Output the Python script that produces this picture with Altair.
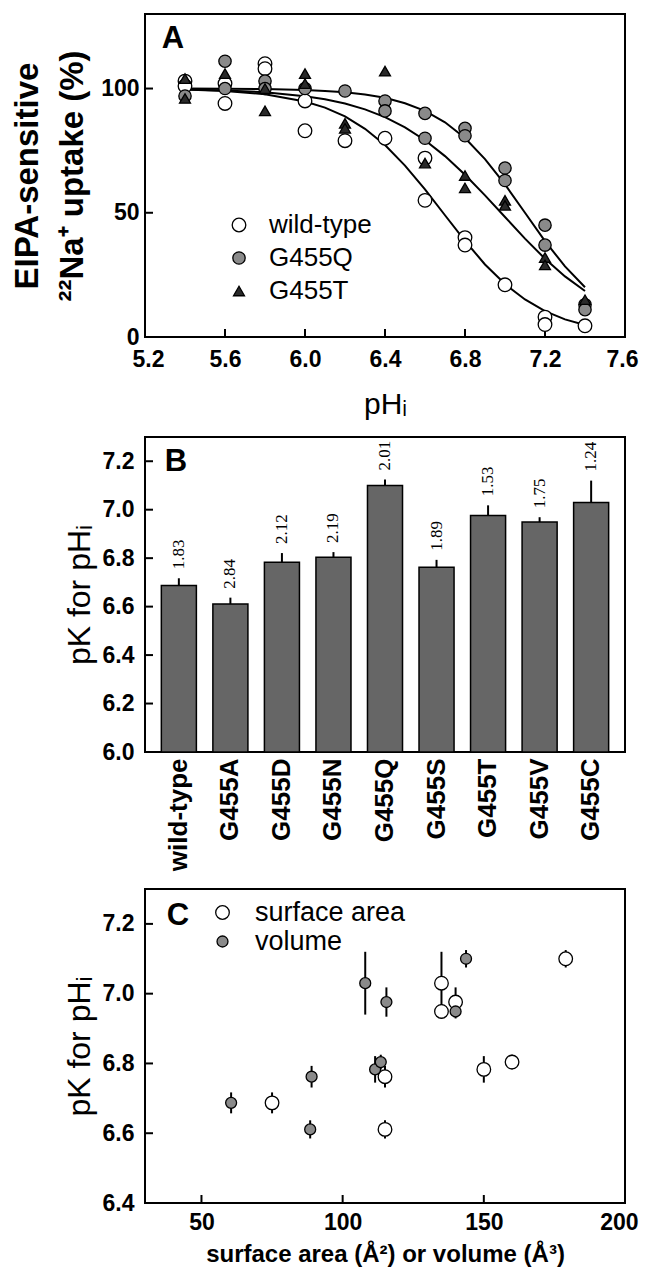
import altair as alt
import pandas as pd

# ---------------- Panel A data ----------------
series_names = ["wild-type", "G455Q", "G455T"]

wt_ph = [5.4, 5.4, 5.6, 5.6, 5.8, 5.8, 6.0, 6.0, 6.2, 6.4, 6.6, 6.6, 6.8, 6.8, 7.0, 7.2, 7.2, 7.4]
wt_val = [103, 101, 102, 94, 110, 108, 95, 83, 79, 80, 72, 55, 40, 37, 21, 8, 5, 4.5]

q_ph = [5.4, 5.6, 5.6, 5.8, 5.8, 6.0, 6.2, 6.4, 6.4, 6.6, 6.6, 6.8, 6.8, 7.0, 7.0, 7.2, 7.2, 7.4, 7.4]
q_val = [97, 111, 100, 103, 100, 100, 99, 95, 91, 90, 80, 84, 81, 68, 63, 45, 37, 13, 11]

t_ph = [5.4, 5.4, 5.6, 5.8, 5.8, 6.0, 6.0, 6.2, 6.2, 6.4, 6.6, 6.8, 6.8, 7.0, 7.0, 7.2, 7.2, 7.4]
t_val = [104, 96, 106, 100, 91, 106, 102, 86, 84, 107, 70, 65, 60, 55, 53, 32, 29, 15]

curve_ph = [5.4, 5.6, 5.8, 6.0, 6.1, 6.2, 6.3, 6.4, 6.5, 6.6, 6.7, 6.8, 6.9, 7.0, 7.1, 7.2, 7.3, 7.4]
wt_fit = [99.6, 99.0, 97.7, 94.8, 92.3, 88.8, 83.8, 77.3, 69.0, 59.4, 49.0, 38.7, 29.2, 21.3, 15.1, 10.4, 7.1, 4.8]
q_fit = [100.0, 99.9, 99.8, 99.4, 99.0, 98.5, 97.6, 96.3, 94.1, 91.0, 86.4, 80.1, 71.6, 61.4, 50.0, 38.6, 28.4, 20.0]
t_fit = [99.6, 99.2, 98.5, 96.9, 95.7, 94.0, 91.6, 88.5, 84.4, 79.2, 72.8, 65.3, 57.0, 48.3, 39.6, 31.5, 24.4, 18.5]

a_xticks = [5.2, 5.6, 6.0, 6.4, 6.8, 7.2, 7.6]
a_yticks = [0, 50, 100]

# ---------------- Panel B / C data ----------------
mutants = ["wild-type", "G455A", "G455D", "G455N", "G455Q", "G455S", "G455T", "G455V", "G455C"]
pk = [6.687, 6.611, 6.783, 6.804, 7.10, 6.762, 6.976, 6.949, 7.03]
pk_err = [0.03, 0.026, 0.038, 0.021, 0.025, 0.031, 0.042, 0.02, 0.09]
hill = ["1.83", "2.84", "2.12", "2.19", "2.01", "1.89", "1.53", "1.75", "1.24"]
b_yticks = [6.0, 6.2, 6.4, 6.6, 6.8, 7.0, 7.2]

surface_area = [75, 115, 150, 160, 179, 115, 140, 135, 135]
volume = [60.5, 88.5, 111.5, 113.5, 143.7, 89, 115.5, 140, 108]
c_kinds = ["surface area", "volume"]
c_xticks = [50, 100, 150, 200]
c_yticks = [6.4, 6.6, 6.8, 7.0, 7.2]

W = 480
HA, HB, HC = 323, 315, 314
FONT = "Liberation Sans"

# ---------------- Panel A ----------------
ptsA = pd.DataFrame({
    "ph": wt_ph + q_ph + t_ph,
    "val": wt_val + q_val + t_val,
    "series": [series_names[0]] * len(wt_ph) + [series_names[1]] * len(q_ph) + [series_names[2]] * len(t_ph),
})
curvesA = pd.DataFrame({
    "ph": curve_ph * 3,
    "val": wt_fit + q_fit + t_fit,
    "series": [s for s in series_names for _ in curve_ph],
})

xA = alt.X("ph:Q", scale=alt.Scale(domain=[5.2, 7.6], nice=False, zero=False),
           axis=alt.Axis(values=a_xticks, format=".1f", title="pHᵢ", titleFontSize=30,
                         titleFontWeight="normal", titlePadding=18, labelPadding=11,
                         labelFlush=True, labelFlushOffset=13))
yA = alt.Y("val:Q", scale=alt.Scale(domain=[0, 130], nice=False),
           axis=alt.Axis(values=a_yticks, title=["EIPA-sensitive", "²²Na⁺ uptake (%)"],
                         titleFontSize=33, titleFontWeight="bold", titleLineHeight=45,
                         titlePadding=11, labelPadding=6))

legA = alt.Legend(title=None, orient="none", legendX=81, legendY=198, labelFontSize=26,
                  labelFont=FONT, labelFontWeight="normal", labelColor="black",
                  symbolStrokeColor="black", symbolStrokeWidth=1.3, rowPadding=7,
                  labelOffset=17, padding=0)

lineA = alt.Chart(curvesA).mark_line(color="black", strokeWidth=2).encode(x=xA, y=yA, detail="series:N")
ticksAx = alt.Chart(pd.DataFrame({"ph": a_xticks})).mark_rule(color="black", strokeWidth=2).encode(
    x=xA, y=alt.value(HA), y2=alt.value(HA - 8))
ticksAy = alt.Chart(pd.DataFrame({"val": a_yticks})).mark_rule(color="black", strokeWidth=2).encode(
    y=yA, x=alt.value(0), x2=alt.value(8))
pointsA = alt.Chart(ptsA).mark_point(filled=True, strokeWidth=1.3, opacity=1).encode(
    x=xA, y=yA,
    fill=alt.Fill("series:N", scale=alt.Scale(domain=series_names, range=["white", "#8a8a8a", "#2a2a2a"]), legend=legA),
    stroke=alt.Stroke("series:N", scale=alt.Scale(domain=series_names, range=["black", "black", "black"]), legend=legA),
    shape=alt.Shape("series:N", scale=alt.Scale(domain=series_names, range=["circle", "circle", "triangle-up"]), legend=legA),
    size=alt.Size("series:N", scale=alt.Scale(domain=series_names, range=[185, 120, 130]), legend=legA),
)
letterA = alt.Chart(pd.DataFrame({"t": ["A"]})).mark_text(
    font=FONT, fontSize=31, fontWeight="bold", align="center", baseline="middle").encode(
    text="t:N", x=alt.value(28), y=alt.value(25))

panelA = alt.layer(lineA, ticksAx, ticksAy, pointsA, letterA).properties(width=W, height=HA)

# ---------------- Panel B ----------------
dfB = pd.DataFrame({"mut": mutants, "pk": pk, "err": pk_err, "hill": hill})
xB = alt.X("mut:N", sort=mutants, scale=alt.Scale(paddingInner=0.32, paddingOuter=0.317),
           axis=alt.Axis(title="", labelAngle=270, labelFontSize=26, labelPadding=6))
yB = alt.Y("pk:Q", scale=alt.Scale(domain=[6.0, 7.3], nice=False, zero=False),
           axis=alt.Axis(values=b_yticks, format=".1f", title="pK for pHᵢ", titleFontSize=32,
                         titleFontWeight="normal", titlePadding=6, labelPadding=11))

barsB = alt.Chart(dfB).mark_bar(fill="#666666", stroke="black", strokeWidth=1.5).encode(
    x=xB, y=yB, y2=alt.Y2(datum=6.0))
errB = alt.Chart(dfB).transform_calculate(top="datum.pk + datum.err").mark_rule(
    color="black", strokeWidth=2).encode(x=xB, y=yB, y2="top:Q")
txtB = alt.Chart(dfB).transform_calculate(top="datum.pk + datum.err").mark_text(
    angle=270, align="left", baseline="middle", dx=9, font="Liberation Serif", fontSize=17,
    color="black").encode(x=xB, y=alt.Y("top:Q", scale=alt.Scale(domain=[6.0, 7.3], nice=False, zero=False)), text="hill:N")
ticksBy = alt.Chart(pd.DataFrame({"pk": b_yticks})).mark_rule(color="black", strokeWidth=2).encode(
    y=yB, x=alt.value(0), x2=alt.value(8))
letterB = alt.Chart(pd.DataFrame({"t": ["B"]})).mark_text(
    font=FONT, fontSize=31, fontWeight="bold", align="center", baseline="middle").encode(
    text="t:N", x=alt.value(31), y=alt.value(25))

panelB = alt.layer(barsB, errB, txtB, ticksBy, letterB).properties(width=W, height=HB)

# ---------------- Panel C ----------------
dfC = pd.DataFrame({
    "size": surface_area + volume,
    "pk": pk + pk,
    "err": pk_err + pk_err,
    "kind": [c_kinds[0]] * len(surface_area) + [c_kinds[1]] * len(volume),
})
xC = alt.X("size:Q", scale=alt.Scale(domain=[30, 200], nice=False, zero=False),
           axis=alt.Axis(values=c_xticks, title="surface area (Å²) or volume (Å³)", titleFontSize=24,
                         titleFontWeight="bold", titlePadding=8, labelPadding=8,
                         labelFlush=True, labelFlushOffset=13))
yC = alt.Y("pk:Q", scale=alt.Scale(domain=[6.4, 7.3], nice=False, zero=False),
           axis=alt.Axis(values=c_yticks, format=".1f", title="pK for pHᵢ", titleFontSize=32,
                         titleFontWeight="normal", titlePadding=6, labelPadding=11))

legC = alt.Legend(title=None, orient="none", legendX=64, legendY=10, labelFontSize=27,
                  labelFont=FONT, labelFontWeight="normal", labelColor="black",
                  symbolStrokeColor="black", symbolStrokeWidth=1.3, rowPadding=1,
                  labelOffset=19, padding=0)

errC = alt.Chart(dfC).transform_calculate(lo="datum.pk - datum.err", hi="datum.pk + datum.err").mark_rule(
    color="black", strokeWidth=2).encode(x=xC, y=alt.Y("lo:Q", scale=alt.Scale(domain=[6.4, 7.3], nice=False, zero=False)), y2="hi:Q")
pointsC = alt.Chart(dfC).mark_point(filled=True, strokeWidth=1.3, opacity=1).encode(
    x=xC, y=yC,
    fill=alt.Fill("kind:N", scale=alt.Scale(domain=c_kinds, range=["white", "#8a8a8a"]), legend=legC),
    stroke=alt.Stroke("kind:N", scale=alt.Scale(domain=c_kinds, range=["black", "black"]), legend=legC),
    size=alt.Size("kind:N", scale=alt.Scale(domain=c_kinds, range=[185, 120]), legend=legC),
)
ticksCx = alt.Chart(pd.DataFrame({"size": c_xticks})).mark_rule(color="black", strokeWidth=2).encode(
    x=xC, y=alt.value(HC), y2=alt.value(HC - 8))
ticksCy = alt.Chart(pd.DataFrame({"pk": c_yticks})).mark_rule(color="black", strokeWidth=2).encode(
    y=yC, x=alt.value(0), x2=alt.value(8))
letterC = alt.Chart(pd.DataFrame({"t": ["C"]})).mark_text(
    font=FONT, fontSize=31, fontWeight="bold", align="center", baseline="middle").encode(
    text="t:N", x=alt.value(33), y=alt.value(27))

panelC = alt.layer(errC, ticksCx, ticksCy, pointsC, letterC).properties(width=W, height=HC)

chart = alt.vconcat(panelA, panelB, panelC, spacing=16).resolve_scale(
    fill="independent", shape="independent", size="independent", stroke="independent"
).configure_view(stroke="black", strokeWidth=2).configure_axis(
    domain=False, ticks=False, grid=False, labelFlush=False, labelFont=FONT, labelFontWeight="bold",
    labelFontSize=23, labelColor="black", titleFont=FONT, titleColor="black"
).properties(background="white", padding={"left": 2, "right": 0, "top": 5, "bottom": 3})

chart.save("out.html", embed_options={"renderer": "svg", "actions": False})
